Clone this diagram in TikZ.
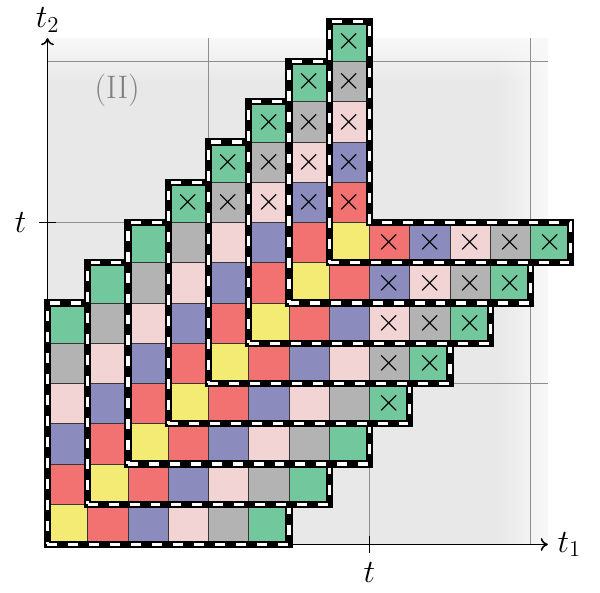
\RequirePackage{fix-cm}
\documentclass[tikz,border=0pt]{standalone}
\usepackage{amsmath,amssymb}
\usepackage{xcolor}
\usepackage{tikz}
\usetikzlibrary{positioning,arrows.meta,calc,shadings}
\definecolor{cYel}{HTML}{F3EB73}
\definecolor{cRed}{HTML}{F27272}
\definecolor{cBlu}{HTML}{8B8BBD}
\definecolor{cPnk}{HTML}{F2D4D5}
\definecolor{cGry}{HTML}{B3B3B3}
\definecolor{cGrn}{HTML}{72C89C}
\definecolor{cLine}{HTML}{363636}
\definecolor{cGrid}{HTML}{8E8E8E}
\definecolor{cBack}{HTML}{E8E8E8}
\definecolor{cEdge}{HTML}{F8F8F8}
\definecolor{cRoman}{HTML}{808080}

\begin{document}
\begin{tikzpicture}[font=\fontsize{23}{28}\selectfont]
\tikzset{cell/.style={draw=cLine,line width=0.6pt,minimum size=1cm,inner sep=0pt,outer sep=0pt},
  rim/.style={draw=white,line width=2.3pt,dash pattern=on 7pt off 7.8pt,preaction={draw=black,line width=5pt,solid}},
  gridln/.style={draw=cGrid,line width=0.6pt},
  axis/.style={line width=1.1pt,-{To[length=5pt,width=9pt]}}}
\useasboundingbox (-1.18,-1.205) rectangle (13.727,13.528);

% backdrop, fading out to the top and right
\fill[cBack] (0,0) rectangle (11.2,11.5);
\shade[left color=cBack,right color=cEdge] (11.2,0) rectangle (12.43,11.5);
\shade[bottom color=cBack,top color=cEdge] (0,11.5) rectangle (11.2,12.58);
\shade[lower left=cBack,upper left=cEdge,upper right=cEdge,lower right=cEdge] (11.2,11.5) rectangle (12.43,12.58);
\foreach \g in {4,8,12}{
  \draw[gridln] (\g,0) -- (\g,12.58);
  \draw[gridln] (0,\g) -- (12.43,\g);
}
\node[text=cRoman] (reg) at (1.73,11.29) {(II)};

% axes
\coordinate (O) at (0,0);
\coordinate (X) at (12.43,0);
\coordinate (Y) at (0,12.58);
\coordinate (tx) at (8,0);
\coordinate (ty) at (0,8);
\draw[axis] (O) -- (X);
\draw[axis] (O) -- (Y);
\node[right=0.12cm of X] (t1) {$t_1$};
\node[above=0.02cm of Y] (t2) {$t_2$};
\draw[line width=0.9pt] ([yshift=-2mm]tx) -- ([yshift=2mm]tx);
\draw[line width=0.9pt] ([xshift=-2mm]ty) -- ([xshift=2mm]ty);
\node[below=0.33cm of tx] (tlx) {$t$};
\node[left=0.4cm of ty] (tly) {$t$};

% hooks, crossed out past t
\foreach \k in {0,...,7}{
  \node[cell,fill=cYel] (d\k) at (\k+.5,\k+.5) {};
  \foreach \c [count=\i] in {cRed,cBlu,cPnk,cGry,cGrn}{
    \pgfmathtruncatemacro\p{\k+\i}
    \ifnum\p>7 \def\mk{$\times$}\else\def\mk{}\fi
    \node[cell,fill=\c] (r\k-\i) at (\p+.5,\k+.5) {\mk};
    \node[cell,fill=\c] (u\k-\i) at (\k+.5,\p+.5) {\mk};
  }
  \draw[rim] (d\k.south west) -- (r\k-5.south east) -- (r\k-5.north east) -- (d\k.north east)
    -- (u\k-5.north east) -- (u\k-5.north west) -- cycle;
}
\end{tikzpicture}
\end{document}
